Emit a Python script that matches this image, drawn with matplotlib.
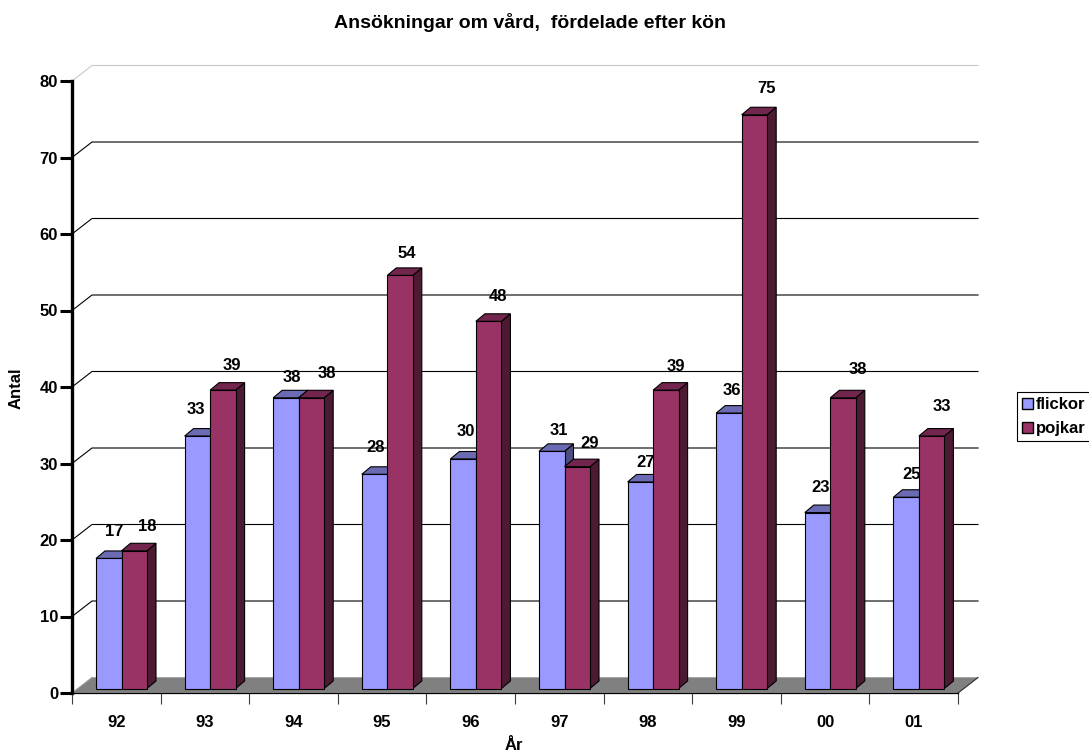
import matplotlib
matplotlib.use('Agg')
import matplotlib.pyplot as plt
from matplotlib.patches import Polygon, Patch

plt.rcParams['font.family'] = ['Liberation Sans', 'DejaVu Sans']
plt.rcParams['font.weight'] = 'bold'
plt.rcParams['font.size'] = 12

years = ['92', '93', '94', '95', '96', '97', '98', '99', '00', '01']
flickor = [17, 33, 38, 28, 30, 31, 27, 36, 23, 25]
pojkar = [18, 39, 38, 54, 48, 29, 39, 75, 38, 33]

# label nudges in pixels (x from bar centre, y above front top)
flickor_dx = [5, -1, 6, 1, 3, 7, 5, 3, 3, 5]
flickor_dy = [27, 27, 20, 27, 27, 21, 19, 23, 25, 23]
pojkar_dx = [13, 9, 15, 7, 9, 12, 10, 12, 15, 10]
pojkar_dy = [24, 25, 24, 22, 25, 23, 24, 26, 28, 30]

W, H, DPI = 1089, 754, 100
left, right, bottom, top = 72, 958, 693, 81

fig = plt.figure(figsize=(W / DPI, H / DPI), dpi=DPI, facecolor='white')
ax = fig.add_axes([left / W, 1 - bottom / H, (right - left) / W, (bottom - top) / H])
ax.set_xlim(0, 10)
ax.set_ylim(0, 80)
ax.patch.set_visible(False)

px = 10 / (right - left)
py = 80 / (bottom - top)
wall_x, wall_y = 20 * px, 15.5 * py
depth_x, depth_y = 9 * px, 7.5 * py
base = 4.5 * py
bar_w = 25.5 * px
bar_off = 24 * px

# back wall and floor
for v in range(10, 90, 10):
    c = '#c8c8c8' if v == 80 else 'black'
    ax.plot([0, wall_x, 10 + wall_x], [v, v + wall_y, v + wall_y], color=c, lw=0.8,
            clip_on=False, zorder=1)
ax.plot([0, wall_x], [0, wall_y], color='#c8c8c8', lw=0.8, clip_on=False, zorder=1)
ax.add_patch(Polygon([(0, 0), (wall_x, wall_y), (10 + wall_x, wall_y), (10, 0)],
                     facecolor='#808080', edgecolor='#a0a0a0', lw=0.6,
                     clip_on=False, zorder=2))
ax.plot([10, 10 + wall_x], [0, wall_y], color='#303030', lw=0.8, clip_on=False, zorder=2.5)


def bar3d(x0, v, front, top_c, side, z):
    x1 = x0 + bar_w
    y1 = base + v
    ax.add_patch(Polygon([(x1, base), (x1 + depth_x, base + depth_y),
                          (x1 + depth_x, y1 + depth_y), (x1, y1)],
                         facecolor=side, edgecolor='black', lw=0.8, clip_on=False, zorder=z))
    ax.add_patch(Polygon([(x0, y1), (x0 + depth_x, y1 + depth_y),
                          (x1 + depth_x, y1 + depth_y), (x1, y1)],
                         facecolor=top_c, edgecolor='black', lw=0.8, clip_on=False, zorder=z))
    ax.bar(x0, v, width=bar_w, bottom=base, align='edge', color=front, edgecolor='black',
           lw=0.8, clip_on=False, zorder=z)


for i in range(len(years)):
    x0 = i + bar_off
    bar3d(x0, flickor[i], '#9999ff', '#6b6bb3', '#4d4d80', 3 + i * 0.1)
    bar3d(x0 + bar_w, pojkar[i], '#993366', '#73264d', '#4d1a33', 3.05 + i * 0.1)
    ax.annotate(str(flickor[i]), (x0 + bar_w / 2, base + flickor[i]),
                xytext=(flickor_dx[i] * 0.72, flickor_dy[i] * 0.72), textcoords='offset points',
                ha='center', va='center', zorder=10, annotation_clip=False)
    ax.annotate(str(pojkar[i]), (x0 + bar_w * 1.5, base + pojkar[i]),
                xytext=(pojkar_dx[i] * 0.72, pojkar_dy[i] * 0.72), textcoords='offset points',
                ha='center', va='center', zorder=10, annotation_clip=False)

# axes
for s in ['top', 'right']:
    ax.spines[s].set_visible(False)
ax.spines['left'].set_linewidth(2.4)
ax.spines['bottom'].set_linewidth(0.9)
ax.spines['left'].set_zorder(6)
ax.spines['bottom'].set_zorder(6)
ax.set_yticks(range(0, 90, 10))
ax.tick_params(axis='y', length=8.5, width=2.2, pad=1.5, labelsize=12)
ax.set_xticks(range(0, 11))
ax.set_xticklabels([])
ax.tick_params(axis='x', which='major', length=8, width=0.8, color='#404040')
ax.set_xticks([i + 0.5 for i in range(len(years))], minor=True)
ax.set_xticklabels(years, minor=True)
ax.tick_params(axis='x', which='minor', length=0, pad=16, labelsize=12)

fig.text(530 / W, 1 - 22 / H, 'Ansökningar om vård,  fördelade efter kön', ha='center',
         va='center', fontsize=14, fontweight='bold')
fig.text(514 / W, 1 - 746 / H, 'År', ha='center', va='center', fontsize=12, fontweight='bold')
fig.text(16 / W, 1 - 388 / H, 'Antal', ha='center', va='center', rotation=90, fontsize=12,
         fontweight='bold')

handles = [Patch(facecolor='#9999ff', edgecolor='black', label='flickor'),
           Patch(facecolor='#993366', edgecolor='black', label='pojkar')]
leg = fig.legend(handles=handles, loc='upper left', bbox_to_anchor=(1017 / W, 1 - 392 / H),
                 borderaxespad=0, borderpad=0.3, handlelength=0.65, handleheight=0.65,
                 handletextpad=0.2, labelspacing=0.55, fontsize=12, fancybox=False,
                 framealpha=1, edgecolor='black')
leg.get_frame().set_linewidth(0.8)

fig.savefig('out.png', dpi=DPI)
